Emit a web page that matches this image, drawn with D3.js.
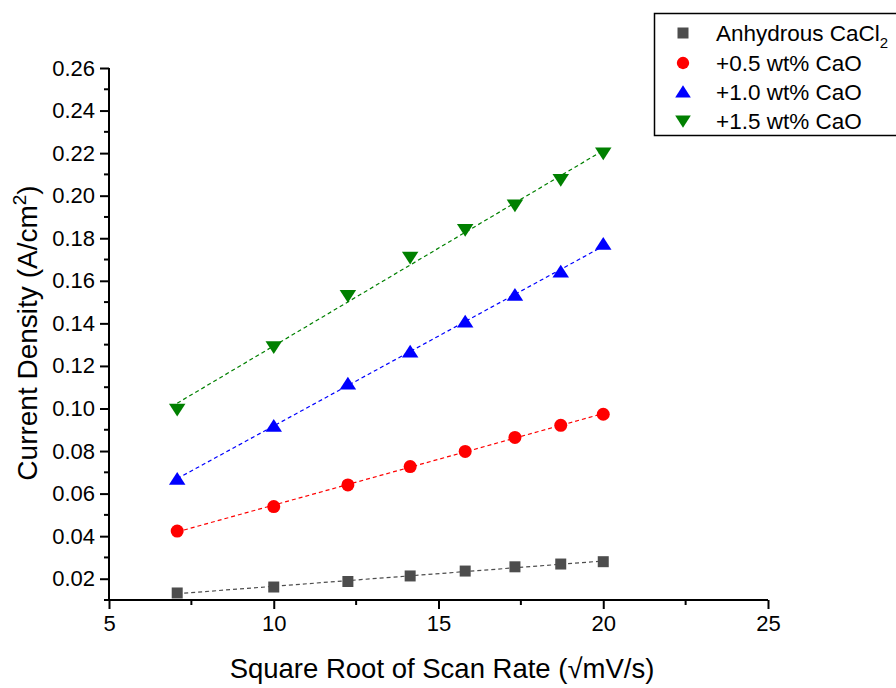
<!DOCTYPE html>
<html>
<head>
<meta charset="utf-8">
<script src="https://cdn.jsdelivr.net/npm/d3@7"></script>
<style>
  body { margin: 0; background: #fff; }
  text { font-family: "Liberation Sans", Arial, sans-serif; fill: #000; }
</style>
</head>
<body>
<div class="chart"></div>
<script>
// sqrt of scan rate (50..400 mV/s)
var scanRoot = [7.07, 10, 12.25, 14.14, 15.81, 17.32, 18.71, 20];

var anhydrous = [0.0133, 0.0161, 0.0187, 0.0213, 0.0236, 0.0256, 0.0269, 0.0280];
var cao05 = [0.0424, 0.0539, 0.0641, 0.0727, 0.0798, 0.0864, 0.0921, 0.0973];
var cao10 = [0.0668, 0.0918, 0.1116, 0.1267, 0.1407, 0.1533, 0.1643, 0.1773];
var cao15 = [0.0995, 0.1289, 0.1530, 0.1710, 0.1840, 0.1955, 0.2075, 0.2200];

var xTicks = [5, 10, 15, 20, 25];
var yTicks = [0.02, 0.04, 0.06, 0.08, 0.10, 0.12, 0.14, 0.16, 0.18, 0.20, 0.22, 0.24, 0.26];

var seriesNames = ["Anhydrous CaCl", "+0.5 wt% CaO", "+1.0 wt% CaO", "+1.5 wt% CaO"];

var series = [
  { name: seriesNames[0], values: anhydrous, color: "#4d4d4d", shape: "square", sub: "2" },
  { name: seriesNames[1], values: cao05, color: "#ff0000", shape: "circle" },
  { name: seriesNames[2], values: cao10, color: "#0000ff", shape: "up" },
  { name: seriesNames[3], values: cao15, color: "#008000", shape: "down" }
];

var svgWidth = 896, svgHeight = 688;
var margin = { top: 68, right: 128, bottom: 88, left: 109 };
var width = svgWidth - margin.left - margin.right;
var height = svgHeight - margin.top - margin.bottom;

var svg = d3.select(".chart")
  .append("svg")
  .attr("width", svgWidth)
  .attr("height", svgHeight);

var chart = svg.append("g")
  .attr("transform", "translate(" + margin.left + "," + margin.top + ")");

var x = d3.scaleLinear().domain([5, 25]).range([0, width]);
var y = d3.scaleLinear().domain([0.01, 0.26]).range([height, 0]);

// symbols
function symbolPath(shape, size) {
  var s = size / 2;
  if (shape === "square") return "M" + -s + "," + -s + "h" + size + "v" + size + "h" + -size + "Z";
  if (shape === "circle") return d3.symbol().type(d3.symbolCircle).size(Math.PI * s * s)();
  var h = size * 0.85;
  var w = size * 1.1 / 2;
  if (shape === "up") return "M0," + (-h * 0.55) + "L" + w + "," + (h * 0.45) + "L" + -w + "," + (h * 0.45) + "Z";
  return "M0," + (h * 0.55) + "L" + w + "," + (-h * 0.45) + "L" + -w + "," + (-h * 0.45) + "Z";
}
var symbolSize = { square: 11, circle: 13, up: 15, down: 15 };

// linear fit lines
function fit(xs, ys) {
  var mx = d3.mean(xs), my = d3.mean(ys);
  var num = d3.sum(xs, function(v, i) { return (v - mx) * (ys[i] - my); });
  var den = d3.sum(xs, function(v) { return (v - mx) * (v - mx); });
  var b = num / den;
  return { b: b, a: my - b * mx };
}

series.forEach(function(s) {
  var f = fit(scanRoot, s.values);
  var x0 = d3.min(scanRoot), x1 = d3.max(scanRoot);
  chart.append("line")
    .attr("x1", x(x0)).attr("y1", y(f.a + f.b * x0))
    .attr("x2", x(x1)).attr("y2", y(f.a + f.b * x1))
    .attr("stroke", s.color)
    .attr("stroke-width", 1.2)
    .attr("stroke-dasharray", "4,3");
});

series.forEach(function(s) {
  chart.append("g").selectAll("path")
    .data(s.values)
    .enter()
    .append("path")
    .attr("d", symbolPath(s.shape, symbolSize[s.shape]))
    .attr("transform", function(d, i) { return "translate(" + x(scanRoot[i]) + "," + y(d) + ")"; })
    .attr("fill", s.color);
});

// axes
var xMinor = d3.range(7.5, 25, 5);
var yMinor = d3.range(0.01, 0.26, 0.02).map(function(v) { return +v.toFixed(2); });

var xAxis = chart.append("g")
  .attr("transform", "translate(0," + height + ")")
  .call(d3.axisBottom(x).tickValues(xTicks).tickSize(9).tickPadding(6).tickFormat(d3.format("d")));
xAxis.append("g").selectAll("line")
  .data(xMinor).enter().append("line")
  .attr("x1", function(d) { return x(d); }).attr("x2", function(d) { return x(d); })
  .attr("y1", 0).attr("y2", 5);

var yAxis = chart.append("g")
  .call(d3.axisLeft(y).tickValues(yTicks).tickSize(9).tickPadding(5).tickFormat(d3.format(".2f")));
yAxis.append("g").selectAll("line")
  .data(yMinor).enter().append("line")
  .attr("y1", function(d) { return y(d); }).attr("y2", function(d) { return y(d); })
  .attr("x1", 0).attr("x2", -5);

[xAxis, yAxis].forEach(function(a) {
  a.select(".domain").attr("stroke", "#000").attr("stroke-width", 2).attr("d",
    a === xAxis ? "M0,0H" + width : "M0,0V" + height);
  a.selectAll("line").attr("stroke", "#000").attr("stroke-width", 2);
  a.selectAll(".tick text").attr("font-size", 22).attr("font-family", "Liberation Sans, Arial, sans-serif").attr("fill", "#000");
});

// axis titles
svg.append("text")
  .attr("x", 442)
  .attr("y", 678)
  .attr("text-anchor", "middle")
  .attr("font-size", 27.5)
  .text("Square Root of Scan Rate (\u221AmV/s)");

var yTitle = svg.append("text")
  .attr("transform", "translate(37,333) rotate(-90)")
  .attr("text-anchor", "middle")
  .attr("font-size", 28);
yTitle.append("tspan").text("Current Density (A/cm");
yTitle.append("tspan").attr("font-size", 19).attr("dy", -11).text("2");
yTitle.append("tspan").attr("dy", 11).text(")");

// legend
var legend = svg.append("g");
legend.append("rect")
  .attr("x", 654.5).attr("y", 13.5)
  .attr("width", 250).attr("height", 122)
  .attr("fill", "#fff")
  .attr("stroke", "#000")
  .attr("stroke-width", 1.5);

var rowY = [33, 63, 92, 121];
series.forEach(function(s, i) {
  var row = legend.append("g").attr("transform", "translate(0," + rowY[i] + ")");
  row.append("path")
    .attr("d", symbolPath(s.shape, symbolSize[s.shape] * (s.shape === "square" ? 1 : 0.95)))
    .attr("transform", "translate(683,0)")
    .attr("fill", s.color);
  var t = row.append("text")
    .attr("x", 716).attr("y", 8)
    .attr("font-size", 22.5)
    .text(s.name);
  if (s.sub) {
    t.append("tspan").attr("font-size", 15).attr("dy", 7).text(s.sub);
  }
});
</script>
</body>
</html>
